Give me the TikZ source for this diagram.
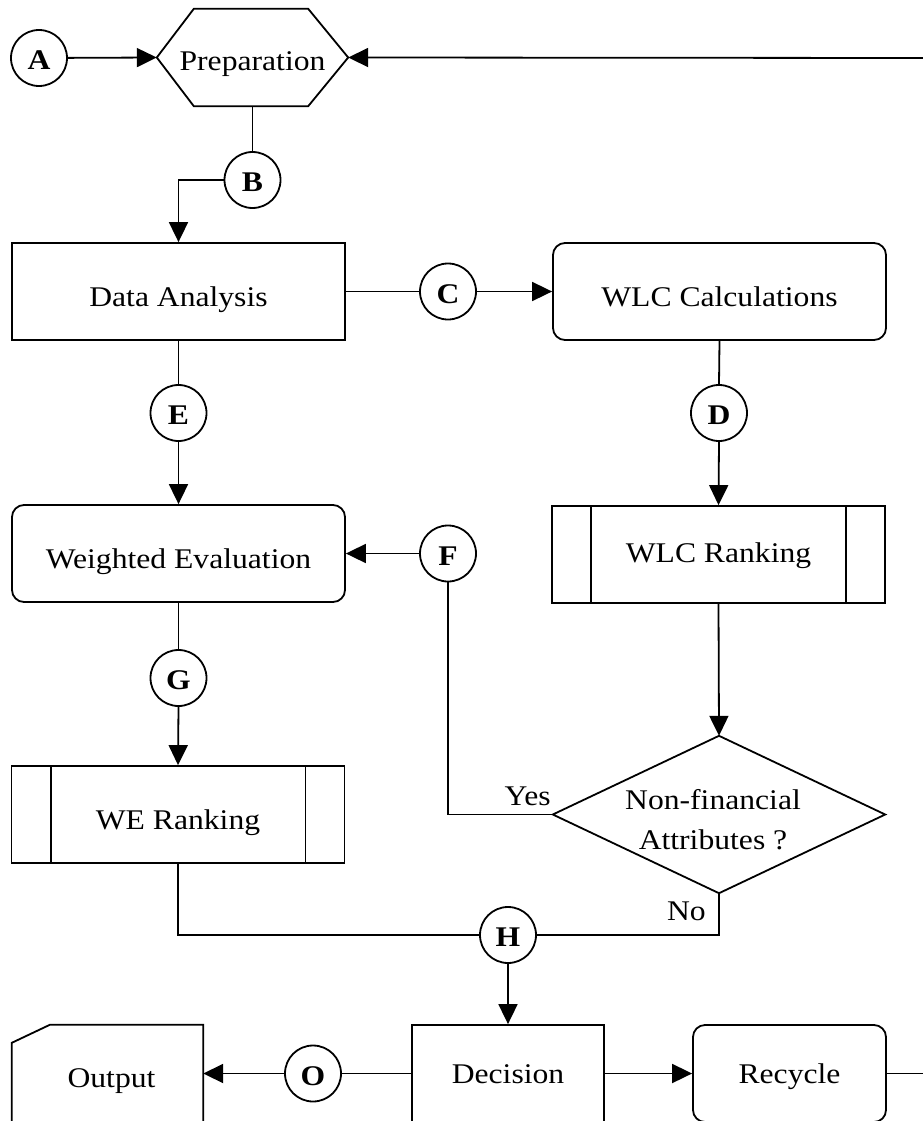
\documentclass[tikz,border=0pt]{standalone}
\usepackage{fontspec}
\setmainfont[FakeStretch=1.11]{Liberation Serif}
\usetikzlibrary{arrows.meta,calc}
\tikzset{
  lw/.style={line width=1.8pt},
  tv/.style={text height=#1,text depth=0pt},
  conn/.style={circle,draw,lw,minimum size=56pt,inner sep=0pt,tv=23pt,font=\fontsize{28.5}{34}\selectfont\bfseries},
  box/.style={rectangle,draw,lw,minimum width=333pt,minimum height=97pt,inner sep=0pt,tv=29pt},
  rbox/.style={box,rounded corners=12pt},
  ghost/.style={rectangle,inner sep=0pt},
  arr/.style={lw,-{Triangle[length=20pt,width=19pt]}},
  ln/.style={lw},
}
\begin{document}
\begin{tikzpicture}[x=1pt,y=-1pt,font=\fontsize{28.5}{34}\selectfont]
\useasboundingbox (0,0) rectangle (923,1121);
\clip (0,0) rectangle (923,1121);
% nodes
\node[conn] (A) at (39,58) {A};
\node[ghost,minimum width=191pt,minimum height=97pt,tv=26pt] (prep) at (252.5,57.5) {Preparation};
\draw[lw,line join=miter] (prep.west) -- ([xshift=37pt]prep.north west) -- ([xshift=-40pt]prep.north east) -- (prep.east) -- ([xshift=-40pt]prep.south east) -- ([xshift=37pt]prep.south west) -- cycle;
\node[conn] (B) at (252.5,180) {B};
\node[box] (data) at (178.5,291.5) {Data Analysis};
\node[conn] (C) at (448,291.5) {C};
\node[rbox] (wlc) at (719.5,291.5) {WLC Calculations};
\node[conn] (E) at (178.5,413) {E};
\node[conn] (D) at (719,413) {D};
\node[rbox] (we) at (178.5,553.5) {Weighted Evaluation};
\node[conn] (F) at (448,553.5) {F};
\node[box,tv=16pt] (wlcr) at (718.5,554.5) {WLC Ranking};
\draw[lw] ([xshift=40pt]wlcr.north west) -- ([xshift=40pt]wlcr.south west);
\draw[lw] ([xshift=-40pt]wlcr.north east) -- ([xshift=-40pt]wlcr.south east);
\node[conn] (G) at (178.5,678) {G};
\node[box,tv=30pt] (wer) at (178,814.5) {WE Ranking};
\draw[lw] ([xshift=40pt]wer.north west) -- ([xshift=40pt]wer.south west);
\draw[lw] ([xshift=-40pt]wer.north east) -- ([xshift=-40pt]wer.south east);
\node[ghost,minimum width=332pt,minimum height=157pt] (dia) at (719,814.5) {};
\draw[lw,line join=miter] (dia.west) -- (dia.north) -- (dia.east) -- (dia.south) -- cycle;
\node[align=center,font=\fontsize{28.5}{40}\selectfont] (diat) at (713,820) {Non-financial\\Attributes ?};
\node[conn] (H) at (508,935) {H};
\node[box,minimum width=192pt,tv=19pt] (dec) at (508,1073.5) {Decision};
\node[conn] (O) at (313,1073.5) {O};
\node[ghost,minimum width=191pt,minimum height=97pt,tv=28pt] (out) at (107.5,1073.5) {\hspace*{8pt}Output};
\draw[lw] ([yshift=-18pt]out.north west) -- ([xshift=38pt]out.north west) -- (out.north east) -- (out.south east) -- (out.south west) -- cycle;
\node[rbox,minimum width=193pt,tv=19pt] (rec) at (789.5,1073.5) {Recycle};
\coordinate (re) at (925,1073.5);
\coordinate (te) at (925,58);
% labels
\node[anchor=base east,inner sep=0pt] (yes) at ([xshift=-2pt,yshift=9pt]dia.west) {Yes};
\node[anchor=base east,inner sep=0pt] (no) at ([xshift=-13pt,yshift=-27pt]dia.south) {No};
% connectors
\draw[arr] (A) -- (prep.west);
\draw[ln] (prep.south) -- (B);
\draw[arr] (B.west) -| (data.north);
\draw[ln] (data.east) -- (C.west);
\draw[arr] (C.east) -- (wlc.west);
\draw[ln] (data.south) -- (E.north);
\draw[arr] (E.south) -- (we.north);
\draw[ln] (wlc.south) -- (D.north);
\draw[arr] (D.south) -- (wlcr.north);
\draw[arr] (F.west) -- (we.east);
\draw[ln] (F.south) |- (dia.west);
\draw[ln] (we.south) -- (G.north);
\draw[arr] (G.south) -- (wer.north);
\draw[arr] (wlcr.south) -- (dia.north);
\draw[ln] (wer.south) |- (H.west);
\draw[ln] (dia.south) |- (H.east);
\draw[arr] (H.south) -- (dec.north);
\draw[ln] (dec.west) -- (O.east);
\draw[arr] (O.west) -- (out.east);
\draw[arr] (dec.east) -- (rec.west);
\draw[ln] (rec.east) -- (re);
\draw[arr] (te) -- (prep.east);
\end{tikzpicture}
\end{document}
